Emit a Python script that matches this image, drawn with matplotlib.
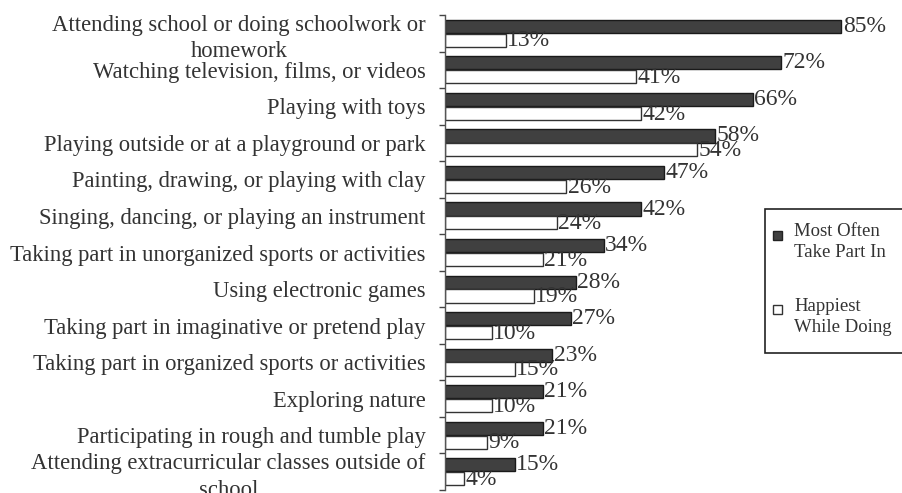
import matplotlib.pyplot as plt
import numpy as np
from matplotlib.patches import Rectangle

plt.rcParams['font.family'] = ['Liberation Serif', 'DejaVu Serif']

# Activities and shares of children (%)
activities = [
    'Attending school or doing schoolwork or\nhomework',
    'Watching television, films, or videos',
    'Playing with toys',
    'Playing outside or at a playground or park',
    'Painting, drawing, or playing with clay',
    'Singing, dancing, or playing an instrument',
    'Taking part in unorganized sports or activities',
    'Using electronic games',
    'Taking part in imaginative or pretend play',
    'Taking part in organized sports or activities',
    'Exploring nature',
    'Participating in rough and tumble play',
    'Attending extracurricular classes outside of\nschool',
]
most_often = [85, 72, 66, 58, 47, 42, 34, 28, 27, 23, 21, 21, 15]
happiest = [13, 41, 42, 54, 26, 24, 21, 19, 10, 15, 10, 9, 4]

W, H = 902, 493
fig = plt.figure(figsize=(W / 100, H / 100), dpi=100)
ax = fig.add_axes([445 / W, 3 / H, (W - 445) / W, 475 / H])

y = np.arange(len(activities))
bh = 0.36
off = 0.19

dark = ax.barh(y - off, most_often, height=bh, color='#404040', edgecolor='#1a1a1a', linewidth=1.0)
light = ax.barh(y + off, happiest, height=bh, color='white', edgecolor='#333333', linewidth=1.0)

for rect, v in zip(dark, most_often):
    ax.text(rect.get_width() + 0.3, rect.get_y() + rect.get_height() / 2, f'{v}%',
            va='center', ha='left', fontsize=17, color='#333333')
for rect, v in zip(light, happiest):
    ax.text(rect.get_width() + 0.3, rect.get_y() + rect.get_height() / 2 + 0.02, f'{v}%',
            va='center', ha='left', fontsize=17, color='#333333')

ax.set_xlim(0, 98)
ax.set_ylim(len(activities) - 0.5, -0.5)
ax.set_xticks([])
ax.set_yticks(y)
ax.set_yticklabels(activities, fontsize=16.3, color='#333333', multialignment='center')
for lbl in ax.get_yticklabels():
    lbl.set_linespacing(1.35)
ax.tick_params(axis='y', which='major', length=0, pad=14)
ax.set_yticks(np.arange(len(activities) + 1) - 0.5, minor=True)
ax.tick_params(axis='y', which='minor', length=4, width=1, color='#444444')

for s in ['top', 'right', 'bottom']:
    ax.spines[s].set_visible(False)
ax.spines['left'].set_color('#555555')
ax.spines['left'].set_linewidth(1.0)

# legend drawn by hand so the key sits on the first line of each label;
# the frame runs past the right edge of the figure
fig.patches.append(Rectangle((765 / W, 1 - 353 / H), (W + 10 - 765) / W, 144 / H,
                             transform=fig.transFigure, facecolor='white',
                             edgecolor='#222222', linewidth=1.2))
fig.patches.append(Rectangle((773 / W, 1 - 240 / H), 9 / W, 9 / H, transform=fig.transFigure,
                             facecolor='#404040', edgecolor='#222222', linewidth=1))
fig.patches.append(Rectangle((773 / W, 1 - 314 / H), 9 / W, 9 / H, transform=fig.transFigure,
                             facecolor='white', edgecolor='#333333', linewidth=1))
fig.text(794 / W, 1 - 223 / H, 'Most Often\nTake Part In', fontsize=13.5, color='#333333',
         va='top', ha='left', linespacing=1.3)
fig.text(794 / W, 1 - 298 / H, 'Happiest\nWhile Doing', fontsize=13.5, color='#333333',
         va='top', ha='left', linespacing=1.3)

fig.savefig('out.png', dpi=100)
